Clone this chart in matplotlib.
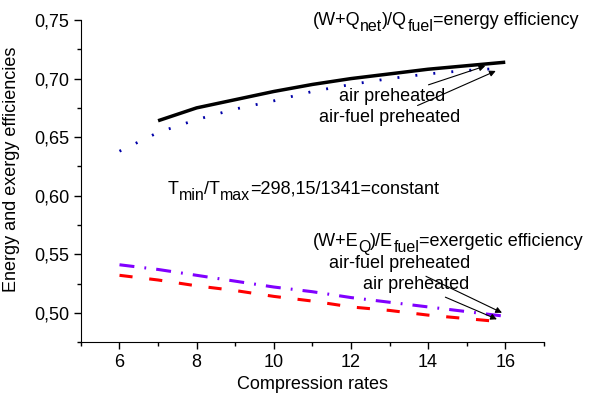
import matplotlib
matplotlib.use("Agg")
import matplotlib.pyplot as plt
from matplotlib.ticker import MultipleLocator, FuncFormatter

plt.rcParams['font.family'] = ['Liberation Sans', 'DejaVu Sans']

# data
rate_air = [7, 8, 9, 10, 11, 12, 13, 14, 15, 16]
energy_air = [0.664, 0.675, 0.682, 0.689, 0.695, 0.700, 0.704, 0.708, 0.711, 0.714]

rate_af = [6, 7, 8, 9, 10, 11, 12, 13, 14, 15, 16]
energy_af = [0.638, 0.654, 0.665, 0.674, 0.681, 0.689, 0.695, 0.700, 0.704, 0.707, 0.709]

exergy_af = [0.541, 0.537, 0.532, 0.527, 0.522, 0.518, 0.513, 0.509, 0.505, 0.501, 0.497]
exergy_air = [0.532, 0.528, 0.523, 0.519, 0.514, 0.510, 0.505, 0.502, 0.498, 0.495, 0.492]

fig = plt.figure(figsize=(5.95, 4.01), dpi=100)
ax = fig.add_axes([0.136, 0.147, 0.778, 0.803])

ax.plot(rate_air, energy_air, color='black', lw=2.5, solid_capstyle='butt')
ax.plot(rate_af, energy_af, color='#0000a8', lw=2, linestyle=(0, (0.7, 5.8)))
ax.plot(rate_af, exergy_af, color='#8000ff', lw=2.2, linestyle=(0, (4.9, 3.3, 0.6, 3.3)))
ax.plot(rate_af, exergy_air, color='#ff0000', lw=2.2, linestyle=(0, (4.3, 5.5)))

ax.set_xlim(5, 17)
ax.set_ylim(0.475, 0.75)
ax.xaxis.set_major_locator(MultipleLocator(2))
ax.xaxis.set_minor_locator(MultipleLocator(1))
ax.yaxis.set_major_locator(MultipleLocator(0.05))
ax.yaxis.set_minor_locator(MultipleLocator(0.025))
ax.yaxis.set_major_formatter(FuncFormatter(lambda v, p: f"{v:.2f}".replace('.', ',')))
ax.tick_params(which='major', direction='out', length=5, width=1, labelsize=13)
ax.tick_params(which='minor', direction='out', length=3, width=1)
ax.spines['top'].set_visible(False)
ax.spines['right'].set_visible(False)

ax.set_xlabel('Compression rates', fontsize=13)
ax.set_ylabel('Energy and exergy efficiencies', fontsize=13)
ax.yaxis.set_label_coords(-0.132, 0.535)

fs = 13
sub_fs = 11.5


def rich(x, y, parts):
    # parts: list of (string, is_subscript); pieces chained one after another
    t = ax.text(x, y, parts[0][0], fontsize=fs, va='bottom')
    was_sub = parts[0][1]
    for s, is_sub in parts[1:]:
        dy = 0
        if is_sub and not was_sub:
            dy = -3.5
        elif was_sub and not is_sub:
            dy = 3.5
        t = ax.annotate(s, xy=(1, 0), xycoords=t, xytext=(0, dy),
                        textcoords='offset points', va='bottom', ha='left',
                        fontsize=sub_fs if is_sub else fs)
        was_sub = is_sub


rich(11.0, 0.7423, [('(W+Q', False), ('net', True), (')/Q', False),
                    ('fuel', True), ('=energy efficiency', False)])
rich(7.25, 0.5981, [('T', False), ('min', True), ('/T', False),
                    ('max', True), ('=298,15/1341=constant', False)])
rich(11.0, 0.5537, [('(W+E', False), ('Q', True), (')/E', False),
                    ('fuel', True), ('=exergetic efficiency', False)])

arrow = dict(arrowstyle='-|>', color='black', lw=0.8, mutation_scale=9)
ax.annotate('air preheated', xy=(15.55, 0.7115), xytext=(13.06, 0.6843),
            ha='center', va='center', fontsize=fs, arrowprops=arrow)
ax.annotate('air-fuel preheated', xy=(15.82, 0.7075), xytext=(13.0, 0.6664),
            ha='center', va='center', fontsize=fs, arrowprops=arrow)
ax.annotate('air-fuel preheated', xy=(15.98, 0.499), xytext=(13.27, 0.5418),
            ha='center', va='center', fontsize=fs, arrowprops=arrow)
ax.annotate('air preheated', xy=(15.85, 0.4935), xytext=(13.70, 0.5239),
            ha='center', va='center', fontsize=fs, arrowprops=arrow)

fig.savefig('out.png', dpi=100)
